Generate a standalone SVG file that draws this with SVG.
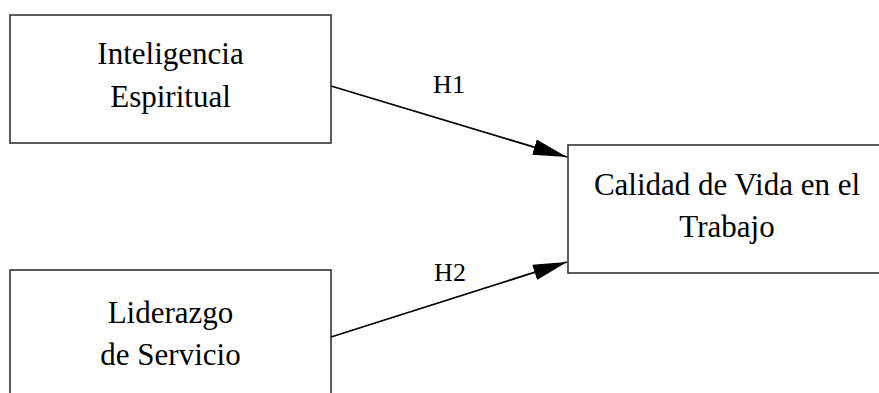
<svg xmlns="http://www.w3.org/2000/svg" width="879" height="393" viewBox="0 0 879 393">
<style>
.box{fill:#fff;stroke:#333;stroke-width:1.6}
.t{font-family:"Liberation Serif","Times New Roman",serif;font-size:31px;fill:#000;text-anchor:middle}
.l{font-family:"Liberation Serif","Times New Roman",serif;font-size:26px;fill:#000;text-anchor:middle}
.edge{stroke:#000;stroke-width:1.8;fill:none}
</style>
<defs>
<marker id="ah" markerUnits="userSpaceOnUse" markerWidth="36" markerHeight="18" refX="34" refY="8" orient="auto">
<path d="M0,0 L34,8 L0,16 z" fill="#000"/>
</marker>
</defs>
<rect width="879" height="393" fill="#fff"/>
<g id="n1">
<rect class="box" x="10" y="15" width="321" height="128"/>
<text class="t" x="170.5" y="64">Inteligencia</text>
<text class="t" x="170.5" y="107">Espiritual</text>
</g>
<g id="n2">
<rect class="box" x="10" y="270" width="321" height="140"/>
<text class="t" x="170.5" y="323">Liderazgo</text>
<text class="t" x="170.5" y="365">de Servicio</text>
</g>
<g id="n3">
<rect class="box" x="568" y="145" width="330" height="128"/>
<text class="t" x="727" y="195">Calidad de Vida en el</text>
<text class="t" x="727" y="237">Trabajo</text>
</g>
<g id="edges">
<line class="edge" x1="331" y1="86" x2="567" y2="157" marker-end="url(#ah)"/>
<text class="l" x="449" y="93">H1</text>
<line class="edge" x1="331" y1="337" x2="567" y2="262" marker-end="url(#ah)"/>
<text class="l" x="450" y="281">H2</text>
</g>
</svg>
